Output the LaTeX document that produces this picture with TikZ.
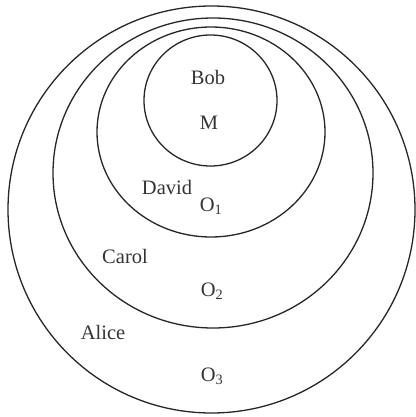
\documentclass[tikz,border=0pt]{standalone}
\usepackage{fontspec}
\setmainfont{Liberation Serif}
\begin{document}
\begin{tikzpicture}[x=1pt,y=-1pt,
  ring/.style={draw=black!85,line width=1.3pt},
  lbl/.style={font=\fontsize{20.5}{24}\selectfont,text=black!80,inner sep=0pt}]
\useasboundingbox (0,0) rectangle (415,417);
\draw[ring] (211.5,209.5) circle [radius=203.5];
\draw[ring] (213,173) ellipse [x radius=160,y radius=155];
\draw[ring] (211,132) ellipse [x radius=114,y radius=105];
\draw[ring] (210.5,100.5) ellipse [x radius=66.5,y radius=65.5];
\node[lbl] (bob) at (208,77) {Bob};
\node[lbl] (m) at (209,123) {M};
\node[lbl] (david) at (167,187) {David};
\node[lbl] (o1) at (211,206) {O\textsubscript{1}};
\node[lbl] (carol) at (125,256) {Carol};
\node[lbl] (o2) at (212,291) {O\textsubscript{2}};
\node[lbl] (alice) at (103,332) {Alice};
\node[lbl] (o3) at (212,376) {O\textsubscript{3}};
\end{tikzpicture}
\end{document}
